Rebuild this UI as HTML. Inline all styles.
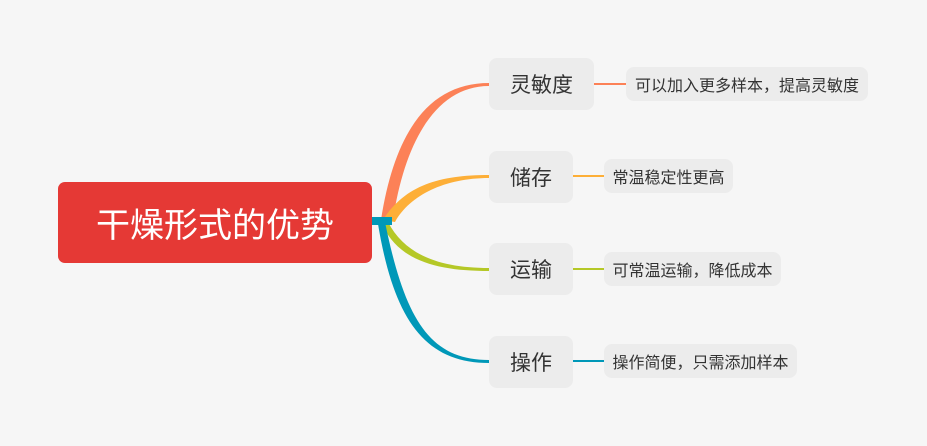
<!DOCTYPE html>
<html><head><meta charset="utf-8"><style>
body{margin:0;width:927px;height:446px;background:#f6f6f6;overflow:hidden;position:relative;font-family:"Liberation Sans","Noto Sans CJK SC",sans-serif}
.b{position:absolute;display:flex;align-items:center;justify-content:center;box-sizing:border-box}
.c{left:58px;top:182px;width:314px;height:81px;background:#e53935;border-radius:7px;color:#fff;font-size:34px}
.n{background:#ececec;border-radius:8px;color:#333;font-size:21px;height:52px}
.l{background:#ececec;border-radius:8px;color:#333;font-size:16px;height:34px}
svg{position:absolute;left:0;top:0}
</style></head><body>
<svg width="927" height="446">
<path d="M381,220 C395,130 430,83 489,83 L489,86 C437,86 405,140 393,220 Z" fill="#fc8157"/>
<path d="M383,220 C405,185 440,175 489,175 L489,178 C445,178 410,195 395,222 Z" fill="#fdaf38"/>
<path d="M388,222 C405,255 440,268 489,268 L489,271 C440,271 400,262 383,226 Z" fill="#b5c827"/>
<path d="M385,222 C405,320 430,360 489,360 L489,363 C425,363 394,320 378,224 Z" fill="#0098b8"/>
<rect x="372" y="217" width="20" height="8" fill="#0098b8"/>
<line x1="594" y1="84" x2="626" y2="84" stroke="#fc8157" stroke-width="2"/>
<line x1="573" y1="176" x2="604" y2="176" stroke="#fdaf38" stroke-width="2"/>
<line x1="573" y1="269" x2="604" y2="269" stroke="#b5c827" stroke-width="2"/>
<line x1="573" y1="361" x2="604" y2="361" stroke="#0098b8" stroke-width="2"/>
</svg>
<div class="b c">干燥形式的优势</div>
<div class="b n" style="left:489px;top:58px;width:105px">灵敏度</div>
<div class="b n" style="left:489px;top:151px;width:84px">储存</div>
<div class="b n" style="left:489px;top:243px;width:84px">运输</div>
<div class="b n" style="left:489px;top:336px;width:84px">操作</div>
<div class="b l" style="left:626px;top:67px;width:242px">可以加入更多样本，提高灵敏度</div>
<div class="b l" style="left:604px;top:159px;width:129px">常温稳定性更高</div>
<div class="b l" style="left:604px;top:252px;width:177px">可常温运输，降低成本</div>
<div class="b l" style="left:604px;top:344px;width:193px">操作简便，只需添加样本</div>
</body></html>
